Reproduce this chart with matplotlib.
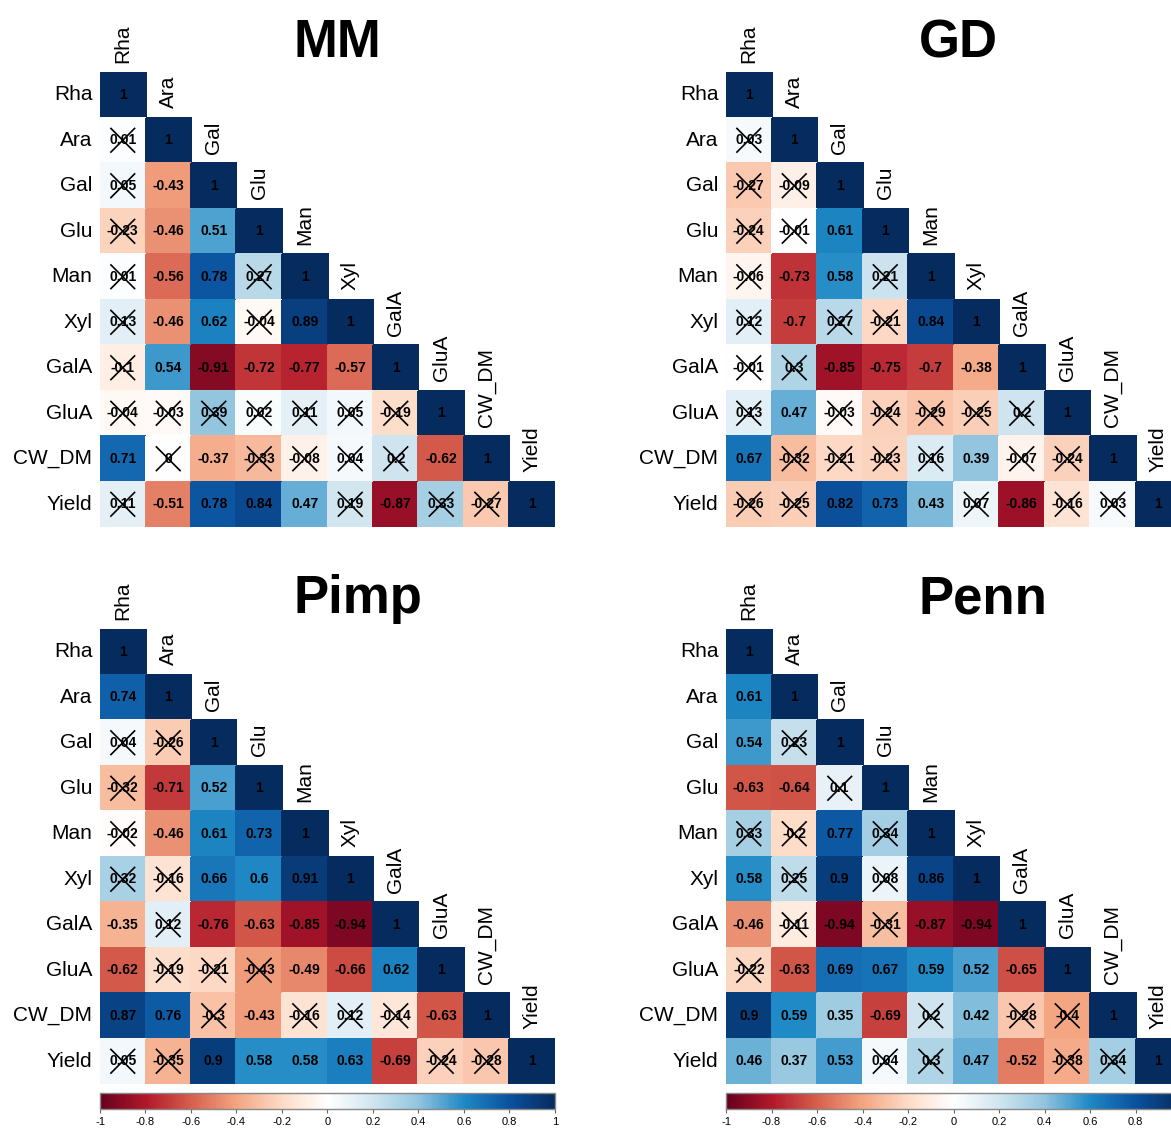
import numpy as np
import matplotlib
matplotlib.use('Agg')
import matplotlib.pyplot as plt
from matplotlib.colors import LinearSegmentedColormap, Normalize
from matplotlib.cm import ScalarMappable

plt.rcParams['font.family'] = ['Liberation Sans', 'DejaVu Sans']

# variables (same order for rows and columns)
variaveis = ['Rha', 'Ara', 'Gal', 'Glu', 'Man', 'Xyl', 'GalA', 'GluA', 'CW_DM', 'Yield']

# lower triangle of each matrix (row by row, diagonal left out)
mm_vals = [
    [0.01],
    [0.05, -0.43],
    [-0.23, -0.46, 0.51],
    [0.01, -0.56, 0.78, 0.27],
    [0.13, -0.46, 0.62, -0.04, 0.89],
    [-0.1, 0.54, -0.91, -0.72, -0.77, -0.57],
    [-0.04, -0.03, 0.39, 0.02, 0.11, 0.05, -0.19],
    [0.71, 0, -0.37, -0.33, -0.08, 0.04, 0.2, -0.62],
    [0.11, -0.51, 0.78, 0.84, 0.47, 0.19, -0.87, 0.33, -0.27],
]
gd_vals = [
    [0.03],
    [-0.27, -0.09],
    [-0.24, -0.01, 0.61],
    [-0.06, -0.73, 0.58, 0.21],
    [0.12, -0.7, 0.27, -0.21, 0.84],
    [-0.01, 0.3, -0.85, -0.75, -0.7, -0.38],
    [0.13, 0.47, -0.03, -0.24, -0.29, -0.25, 0.2],
    [0.67, -0.32, -0.21, -0.23, 0.16, 0.39, -0.07, -0.24],
    [-0.26, -0.25, 0.82, 0.73, 0.43, 0.07, -0.86, -0.16, 0.03],
]
pimp_vals = [
    [0.74],
    [0.04, -0.26],
    [-0.32, -0.71, 0.52],
    [-0.02, -0.46, 0.61, 0.73],
    [0.32, -0.16, 0.66, 0.6, 0.91],
    [-0.35, 0.12, -0.76, -0.63, -0.85, -0.94],
    [-0.62, -0.19, -0.21, -0.43, -0.49, -0.66, 0.62],
    [0.87, 0.76, -0.3, -0.43, -0.16, 0.12, -0.14, -0.63],
    [0.05, -0.35, 0.9, 0.58, 0.58, 0.63, -0.69, -0.24, -0.28],
]
penn_vals = [
    [0.61],
    [0.54, 0.23],
    [-0.63, -0.64, 0.1],
    [0.33, -0.2, 0.77, 0.34],
    [0.58, 0.25, 0.9, 0.08, 0.86],
    [-0.46, -0.11, -0.94, -0.31, -0.87, -0.94],
    [-0.22, -0.63, 0.69, 0.67, 0.59, 0.52, -0.65],
    [0.9, 0.59, 0.35, -0.69, 0.2, 0.42, -0.28, -0.4],
    [0.46, 0.37, 0.53, 0.04, 0.3, 0.47, -0.52, -0.38, 0.34],
]

# non significant cells (x = crossed out)
mm_ns = ['x', 'x.', 'x..', 'x..x', 'x..x.', 'x.....', 'xxxxxxx', '.x.xxxx.', 'x....x.xx']
gd_ns = ['x', 'xx', 'xx.', 'x..x', 'x.xx.', 'xx....', 'x.xxxxx', '.xxxx.xx', 'xx...x.xx']
pimp_ns = ['.', 'xx', 'x..', 'x...', 'xx...', '.x....', '.xxx...', '..x.xxx.', 'xx.....xx']
penn_ns = ['.', '.x', '..x', 'xx.x', '.x.x.', '.x.x..', 'x......', '....x.xx', '...xx..xx']

titulos = ['MM', 'GD', 'Pimp', 'Penn']
valores = [mm_vals, gd_vals, pimp_vals, penn_vals]
nao_sig = [mm_ns, gd_ns, pimp_ns, penn_ns]

# paleta tipo corrplot RdBu
cores = ['#67001F', '#B2182B', '#D6604D', '#F4A582', '#FDDBC7', '#FFFFFF',
         '#D1E5F0', '#92C5DE', '#1F89C6', '#0B529F', '#062B5E']
cmap = LinearSegmentedColormap.from_list('corr', cores, N=200)
norm = Normalize(-1, 1)

W, H = 1171, 1129
fig = plt.figure(figsize=(W / 100, H / 100), dpi=100)

# canto superior esquerdo de cada matriz (px)
origens = [(100, 72), (726, 72), (100, 629), (726, 629)]
lado = 455
n = len(variaveis)


def montar(vals):
    m = np.full((n, n), np.nan)
    for i in range(n):
        m[i, i] = 1
    for i, linha in enumerate(vals):
        for j, v in enumerate(linha):
            m[i + 1, j] = v
    return m


for k, titulo in enumerate(titulos):
    x0, y0 = origens[k]
    ax = fig.add_axes([x0 / W, 1 - (y0 + lado) / H, lado / W, lado / H])
    m = montar(valores[k])
    ax.pcolormesh(np.arange(n + 1), np.arange(n + 1), np.ma.masked_invalid(m),
                  cmap=cmap, norm=norm, edgecolors='face', linewidth=0.2)
    ax.set_xlim(0, n)
    ax.set_ylim(n, 0)
    ax.axis('off')

    for i in range(n):
        for j in range(i + 1):
            v = m[i, j]
            ax.text(j + 0.5, i + 0.5, '{:g}'.format(v), ha='center', va='center',
                    fontsize=10, fontweight='bold', color='black')
    # cruzes nos nao significativos
    h = 0.26
    for i, linha in enumerate(nao_sig[k]):
        for j, c in enumerate(linha):
            if c == 'x':
                cx, cy = j + 0.5, i + 1.5
                ax.plot([cx - h, cx + h], [cy - h, cy + h], color='black', lw=1.2)
                ax.plot([cx - h, cx + h], [cy + h, cy - h], color='black', lw=1.2)

    # rotulos
    for i, nome in enumerate(variaveis):
        ax.text(-0.17, i + 0.5, nome, ha='right', va='center', fontsize=15, clip_on=False)
        ax.text(i + 0.5, i - 0.2, nome, ha='center', va='bottom', rotation=90,
                fontsize=15, clip_on=False)

    # titulo
    base = 57 if y0 < 300 else 613
    fig.text((x0 + 193) / W, 1 - base / H, titulo, ha='left', va='baseline',
             fontsize=38, fontweight='bold')

    # barra de cores so nos paineis de baixo
    if y0 > 300:
        cax = fig.add_axes([x0 / W, 1 - 1109 / H, lado / W, 16 / H])
        sm = ScalarMappable(norm=norm, cmap=cmap)
        ticks = np.round(np.arange(-1, 1.01, 0.2), 1)
        cb = fig.colorbar(sm, cax=cax, orientation='horizontal', ticks=ticks)
        cb.set_ticklabels(['{:g}'.format(t) if t != 0 else '0' for t in ticks])
        cb.outline.set_edgecolor('#888888')
        cb.outline.set_linewidth(1)
        cax.tick_params(length=3, width=0.8, color='#666666', labelsize=8, pad=3)

fig.savefig('out.png', dpi=100)
